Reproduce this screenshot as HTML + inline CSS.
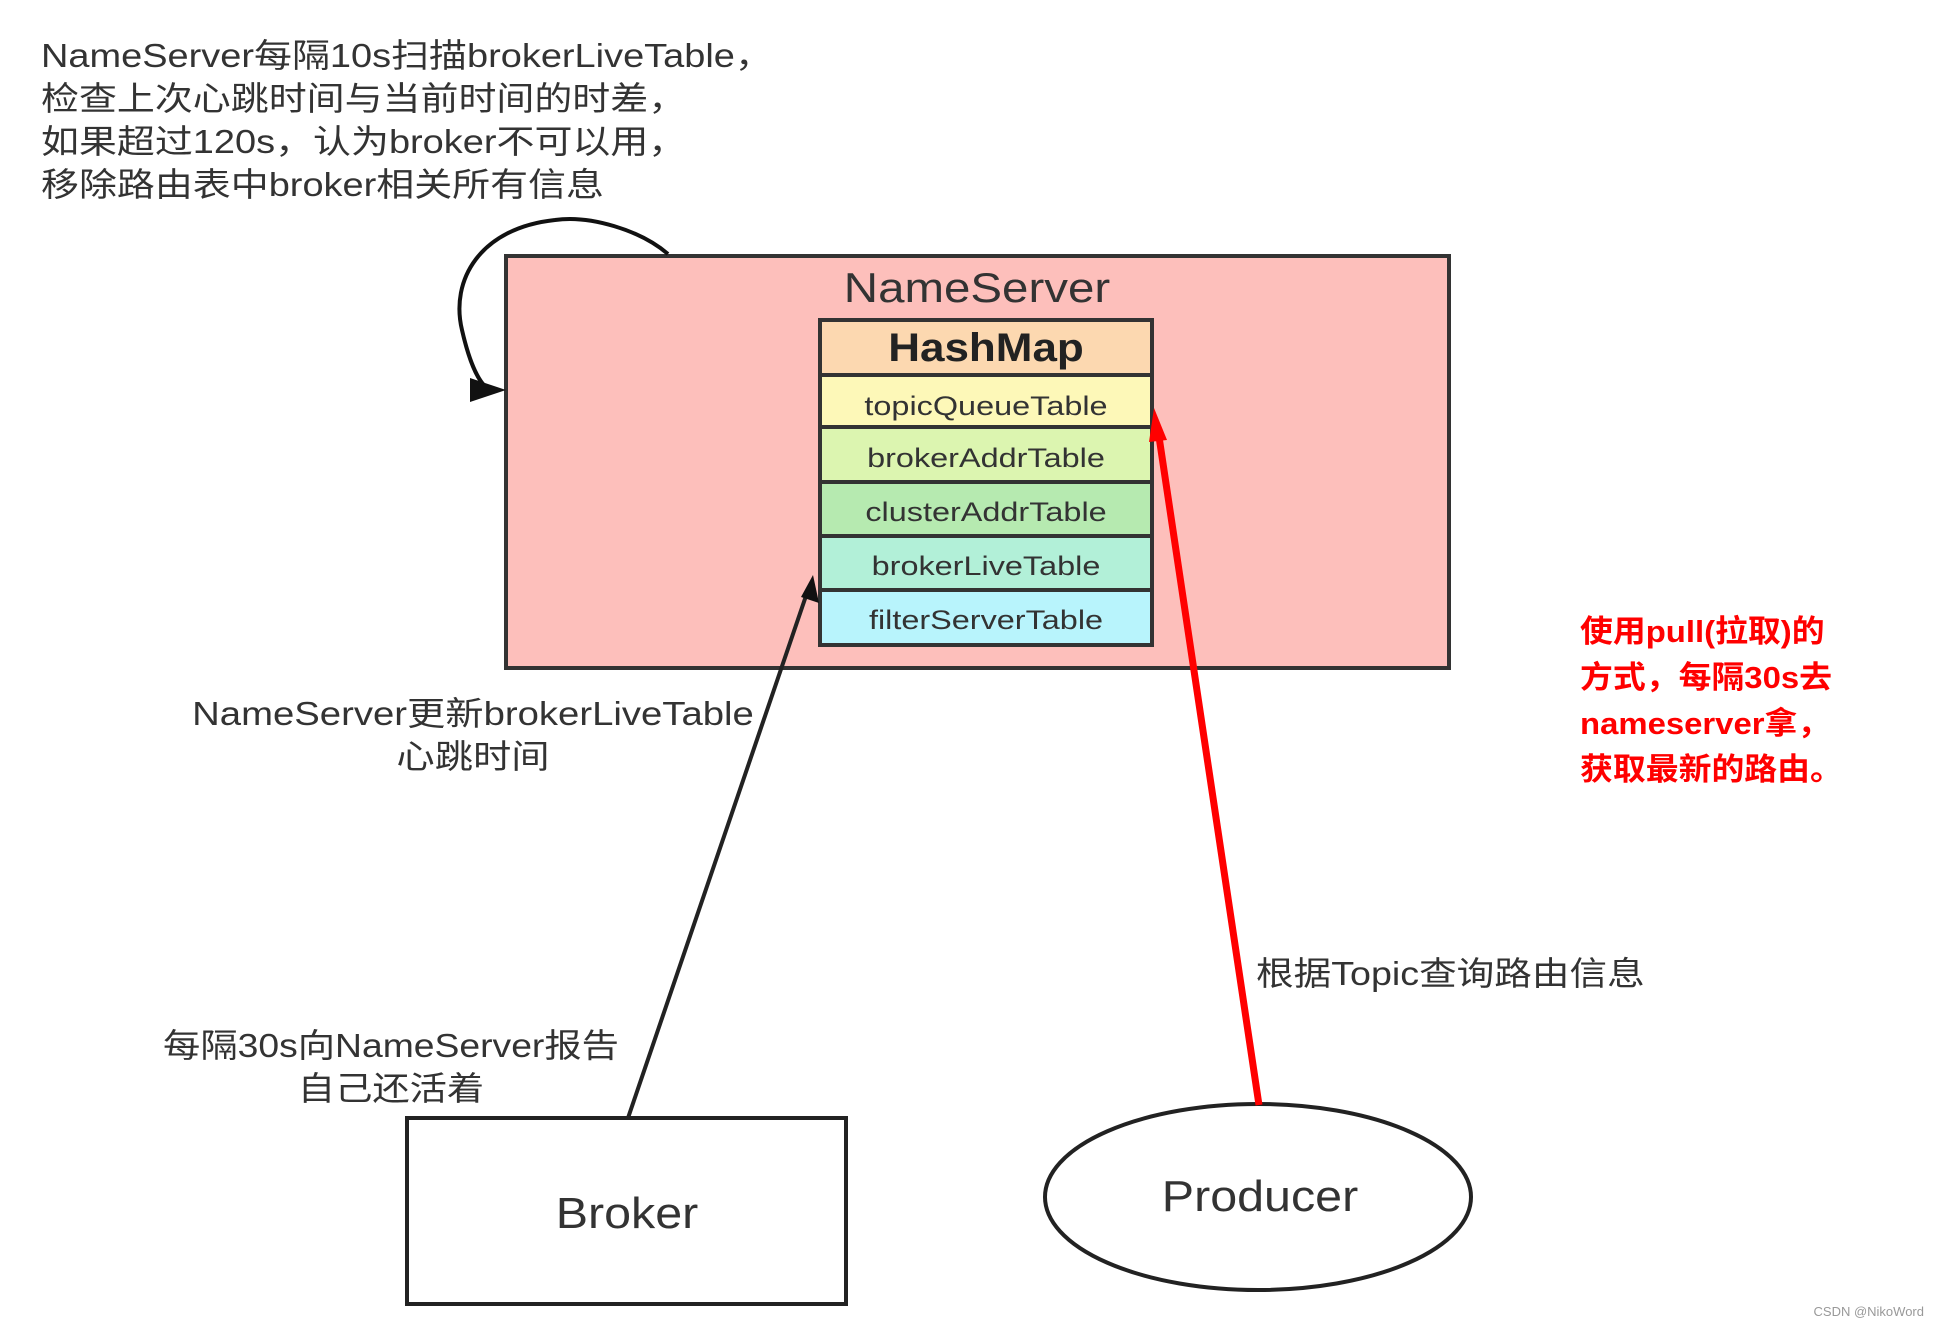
<!DOCTYPE html>
<html><head><meta charset="utf-8"><style>
html,body{margin:0;padding:0;background:#fff;}
body{width:1940px;height:1330px;position:relative;overflow:hidden;font-family:"Liberation Sans","Noto Sans CJK SC",sans-serif;color:#333;}
.t{position:absolute;white-space:nowrap;font-size:33px;line-height:43px;transform-origin:0 0;}
.c{text-align:center;transform-origin:50% 50%;}
.red{color:#f00;font-weight:bold;font-size:31px;line-height:46px;text-shadow:0 0 3px #fff,0 0 3px #fff;}
</style></head><body>
<svg width="1940" height="1330" style="position:absolute;left:0;top:0">
<rect x="506" y="256" width="943" height="412" fill="#fdbfbb" stroke="#333" stroke-width="4"/>
<rect x="820" y="320" width="332" height="55" fill="#fcd8b0" stroke="#333" stroke-width="4"/>
<rect x="820" y="375" width="332" height="52" fill="#fdf8b8" stroke="#333" stroke-width="4"/>
<rect x="820" y="427" width="332" height="55" fill="#dcf5b0" stroke="#333" stroke-width="4"/>
<rect x="820" y="482" width="332" height="54" fill="#b6eab0" stroke="#333" stroke-width="4"/>
<rect x="820" y="536" width="332" height="54" fill="#b2f0d8" stroke="#333" stroke-width="4"/>
<rect x="820" y="590" width="332" height="55" fill="#b8f4fc" stroke="#333" stroke-width="4"/>
<path d="M668,254 C640,230 590,215 555,220 C480,228 450,280 462,330 C470,365 480,385 490,390" fill="none" stroke="#111" stroke-width="4"/>
<path d="M470,378 L506,390 L470,402 z" fill="#111"/>
<rect x="407" y="1118" width="439" height="186" fill="#fff" stroke="#222" stroke-width="4"/>
<ellipse cx="1258" cy="1197" rx="213" ry="93" fill="#fff" stroke="#222" stroke-width="4"/>
<line x1="628" y1="1118" x2="808" y2="590" stroke="#222" stroke-width="4"/>
<path d="M813,575 L819,603 L801,597 z" fill="#111"/>
<line x1="1259" y1="1105" x2="1158" y2="430" stroke="#f00" stroke-width="7"/>
<path d="M1154,408 L1167,440 L1149,442 z" fill="#f00"/>
</svg>
<div class="t c" style="left:977px;top:266px;font-size:42px;transform:translateX(-50%) scaleX(1.13);">NameServer</div>
<div class="t c" style="left:986px;top:327px;font-size:40px;font-weight:bold;color:#222;transform:translateX(-50%) scaleX(1.1);">HashMap</div>
<div class="t c" style="left:986px;top:385px;font-size:27px;transform:translateX(-50%) scaleX(1.2);">topicQueueTable</div>
<div class="t c" style="left:986px;top:437px;font-size:27px;transform:translateX(-50%) scaleX(1.2);">brokerAddrTable</div>
<div class="t c" style="left:986px;top:491px;font-size:27px;transform:translateX(-50%) scaleX(1.2);">clusterAddrTable</div>
<div class="t c" style="left:986px;top:545px;font-size:27px;transform:translateX(-50%) scaleX(1.2);">brokerLiveTable</div>
<div class="t c" style="left:986px;top:599px;font-size:27px;transform:translateX(-50%) scaleX(1.2);">filterServerTable</div>
<div class="t" style="left:41px;top:34px;transform:scaleX(1.15);">NameServer每隔10s扫描brokerLiveTable，<br>检查上次心跳时间与当前时间的时差，<br>如果超过120s，认为broker不可以用，<br>移除路由表中broker相关所有信息</div>
<div class="t c" style="left:473px;top:692px;transform:translateX(-50%) scaleX(1.16);">NameServer更新brokerLiveTable<br>心跳时间</div>
<div class="t" style="left:1256px;top:952px;transform:scaleX(1.14);">根据Topic查询路由信息</div>
<div class="t c" style="left:391px;top:1024px;transform:translateX(-50%) scaleX(1.13);">每隔30s向NameServer报告<br>自己还活着</div>
<div class="t c" style="left:627px;top:1192px;font-size:44px;transform:translateX(-50%) scaleX(1.1);">Broker</div>
<div class="t c" style="left:1260px;top:1175px;font-size:44px;transform:translateX(-50%) scaleX(1.1);">Producer</div>
<div class="t red" style="left:1580px;top:609px;transform:scaleX(1.06);">使用pull(拉取)的<br>方式，每隔30s去<br>nameserver拿，<br>获取最新的路由。</div>
<div class="t" style="right:16px;top:1304px;font-size:13px;line-height:16px;color:#999;">CSDN @NikoWord</div>
</body></html>
